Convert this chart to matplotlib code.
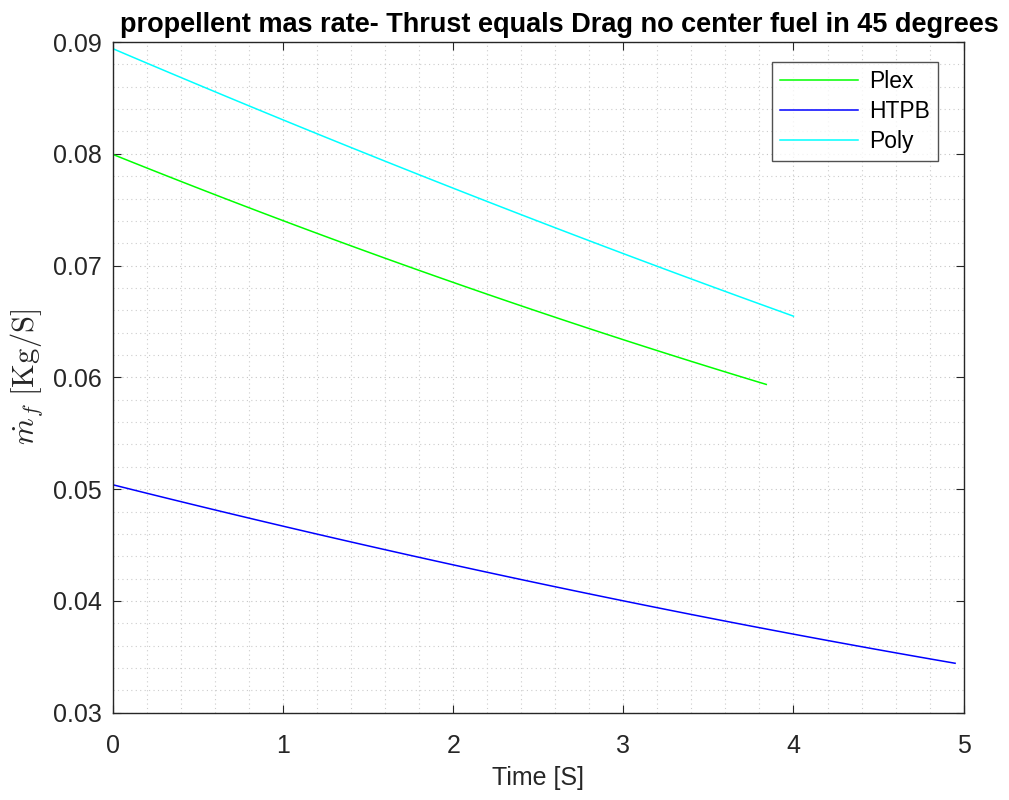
import numpy as np
import matplotlib
matplotlib.use('Agg')
import matplotlib.pyplot as plt
from matplotlib.ticker import MultipleLocator

plt.rcParams['font.family'] = ['Liberation Sans', 'DejaVu Sans']
plt.rcParams['mathtext.fontset'] = 'cm'

# values
t_plex = [0, 1, 2, 3, 3.84]
plex = [0.0800, 0.0739, 0.0685, 0.0635, 0.0593]
t_htpb = [0, 1, 2, 3, 4, 4.95]
htpb = [0.0504, 0.0467, 0.0432, 0.0400, 0.0371, 0.0344]
t_poly = [0, 1, 2, 3, 4.0]
poly = [0.0894, 0.0830, 0.0770, 0.0710, 0.0655]

xticks = [0, 1, 2, 3, 4, 5]
yticks = [0.03, 0.04, 0.05, 0.06, 0.07, 0.08, 0.09]

fig = plt.figure(figsize=(10.09, 8), dpi=100)
ax = fig.add_axes([0.112, 0.109, 0.843, 0.8385])

# smooth the read points a little with a quadratic fit
def smooth(t, y):
    c = np.polyfit(t, y, 2)
    tt = np.linspace(t[0], t[-1], 100)
    return tt, np.polyval(c, tt)

ax.plot(*smooth(t_plex, plex), color='#00ff00', lw=1.1, label='Plex')
ax.plot(*smooth(t_htpb, htpb), color='#0000ff', lw=1.1, label='HTPB')
ax.plot(*smooth(t_poly, poly), color='#00ffff', lw=1.1, label='Poly')

ax.set_xlim(0, 5)
ax.set_ylim(0.03, 0.09)
ax.set_xticks(xticks)
ax.set_yticks(yticks)
ax.set_xticklabels([str(v) for v in xticks])
ax.set_yticklabels(['%.2f' % v for v in yticks])
ax.xaxis.set_minor_locator(MultipleLocator(0.2))
ax.yaxis.set_minor_locator(MultipleLocator(0.002))

ax.grid(which='major', color='#c4c4c4', ls=(0, (1, 3)), lw=0.8)
ax.grid(which='minor', color='#cccccc', ls=(0, (1, 3)), lw=0.8)
ax.set_axisbelow(True)

ax.tick_params(which='both', direction='in', top=True, right=True,
               colors='#262626', labelsize=18)
ax.tick_params(which='major', length=6)
ax.tick_params(axis='x', which='major', pad=15)
ax.tick_params(axis='y', which='major', pad=8)
ax.tick_params(which='minor', length=0)
for s in ax.spines.values():
    s.set_color('#262626')
    s.set_linewidth(1.0)

ax.set_title('propellent mas rate- Thrust equals Drag no center fuel in 45 degrees',
             fontsize=19.5, fontweight='bold', pad=7, x=0.525)
ax.set_xlabel('Time [S]', fontsize=18, color='#262626', labelpad=6)
ax.set_ylabel(r'$\dot{m}_f\ [\mathrm{Kg/S}]$', fontsize=22, color='#262626',
              labelpad=6)

leg = ax.legend(loc='upper right', bbox_to_anchor=(0.97, 0.97), fontsize=16.5,
                frameon=True, fancybox=False, edgecolor='#262626',
                handlelength=3.4, borderpad=0.35, labelspacing=0.3,
                handletextpad=0.5, borderaxespad=0)
leg.get_frame().set_linewidth(1.0)

fig.savefig('out.png', dpi=100)
